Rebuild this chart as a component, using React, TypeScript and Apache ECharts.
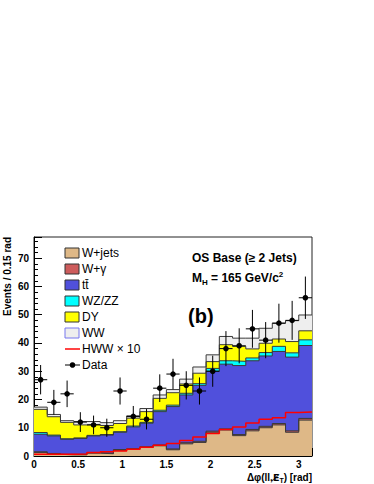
import React, { useEffect, useRef } from "react";
import * as echarts from "echarts";

// ---- data ----
const binWidth = 0.15;
const nBins = 21;
const xMax = 3.15;
const yMax = 77.5;

const wjets = [1.2, 0.6, 0.4, 0.4, 1.0, 0.8, 2.0, 2.3, 3.0, 3.6, 2.2, 4.3, 4.8, 8.4, 9.2, 7.2, 8.9, 10.0, 11.0, 8.4, 12.7];
const wgamma = [0.3, 0.3, 0.2, 0.2, 0.2, 0.2, 0.3, 0.3, 0.3, 0.3, 0.3, 0.4, 0.4, 0.4, 0.4, 0.4, 0.5, 0.5, 0.5, 0.5, 0.6];
const ttbar = [6.2, 6.2, 5.3, 5.6, 5.9, 6.4, 6.1, 7.7, 8.3, 11.8, 15.0, 16.9, 19.8, 21.2, 22.9, 24.4, 24.3, 24.9, 25.5, 26.1, 25.8];
const wzzz = [0.6, 0.3, 0.2, 0.2, 0.2, 0.2, 0.2, 0.3, 0.3, 0.5, 0.5, 0.6, 0.6, 1.0, 1.2, 1.5, 1.0, 1.2, 1.8, 1.5, 2.0];
const dy = [8.2, 6.5, 5.8, 4.6, 3.9, 3.2, 2.9, 2.8, 3.8, 4.2, 4.4, 3.3, 3.7, 2.4, 5.7, 5.3, 3.2, 3.3, 2.6, 4.0, 3.2];
const ww = [0.8, 0.8, 0.6, 1.2, 1.0, 1.0, 1.0, 0.8, 1.1, 1.2, 1.1, 1.7, 2.2, 2.4, 2.9, 2.9, 3.8, 5.3, 5.6, 7.4, 5.6];
const hwwX10 = [0.6, 0.6, 0.6, 0.7, 1.2, 1.5, 1.8, 2.4, 3.1, 3.8, 4.4, 5.5, 6.7, 8.0, 9.4, 10.3, 11.7, 13.0, 13.5, 15.4, 15.6];
const dataCounts = [27, 19, 22, 12, 11, 10, 23, 14, 13, 24, 29, 25, 23, 30, 38, 39, 45, 41, 47, 48, 56];
const dataErr = [5.2, 4.4, 4.7, 3.5, 3.3, 3.2, 4.8, 3.7, 3.6, 4.9, 5.4, 5.0, 4.8, 5.5, 6.2, 6.2, 6.7, 6.4, 6.9, 6.9, 7.5];

const legendNames = ["W+jets", "W+\u03b3", "tt\u0304", "WZ/ZZ", "DY", "WW"];
const legendFill = ["#deb887", "#cd5c5c", "#5050dc", "#00ffff", "#ffff00", "#eeeeee"];
const legendBorder = ["#333333", "#333333", "#333333", "#333333", "#333333", "#7777ee"];

const FONT = "'Liberation Sans', Arial, Helvetica, sans-serif";

export default function App() {
  const ref = useRef<HTMLDivElement>(null);
  useEffect(() => {
    if (!ref.current) return;
    const chart = echarts.init(ref.current, null, { renderer: "svg" });

    const edges = Array.from({ length: nBins + 1 }, (_, i) => +(i * binWidth).toFixed(4));
    const centers = edges.slice(0, nBins).map((e) => e + binWidth / 2);

    const comps = [wjets, wgamma, ttbar, wzzz, dy, ww];
    const cum: number[][] = [];
    comps.forEach((arr, k) => {
      cum.push(arr.map((v, i) => (k === 0 ? 0 : cum[k - 1][i]) + v));
    });
    const stepData = (vals: number[]) =>
      vals.map((v, i) => [edges[i], v]).concat([[edges[nBins], vals[nBins - 1]]]);

    const stackSeries: any[] = [];
    for (let k = comps.length - 1; k >= 0; k--) {
      stackSeries.push({
        name: legendNames[k],
        type: "line",
        step: "end",
        data: stepData(cum[k]),
        symbol: "none",
        showSymbol: false,
        silent: true,
        lineStyle: { color: "#3a3a3a", width: 1 },
        areaStyle: { color: legendFill[k], opacity: 1 },
        z: 2,
      });
    }

    const graphic: any[] = [];
    legendNames.forEach((n, k) => {
      const cy = 253 + 16 * k;
      graphic.push({
        type: "rect",
        shape: { x: 65, y: cy - 5, width: 14, height: 10 },
        style: { fill: legendFill[k], stroke: legendBorder[k], lineWidth: 1 },
      });
      graphic.push({
        type: "text",
        x: 82,
        y: cy,
        style: { text: n, font: `12px ${FONT}`, fill: "#000", verticalAlign: "middle", align: "left" },
      });
    });
    // HWW x10
    graphic.push({
      type: "line",
      shape: { x1: 65, y1: 349, x2: 80, y2: 349 },
      style: { stroke: "#ff4444", lineWidth: 2 },
    });
    graphic.push({
      type: "text",
      x: 82,
      y: 349,
      style: { text: "HWW \u00d7 10", font: `12px ${FONT}`, fill: "#000", verticalAlign: "middle" },
    });
    // Data
    graphic.push({
      type: "line",
      shape: { x1: 65, y1: 365, x2: 80, y2: 365 },
      style: { stroke: "#000", lineWidth: 1 },
    });
    graphic.push({ type: "circle", shape: { cx: 72.5, cy: 365, r: 2.8 }, style: { fill: "#000" } });
    graphic.push({
      type: "text",
      x: 82,
      y: 365,
      style: { text: "Data", font: `12px ${FONT}`, fill: "#000", verticalAlign: "middle" },
    });
    // annotations
    graphic.push({
      type: "text",
      x: 192,
      y: 258,
      style: { text: "OS Base (\u2265 2 Jets)", font: `bold 12px ${FONT}`, fill: "#000", verticalAlign: "middle" },
    });
    graphic.push({
      type: "text",
      x: 192,
      y: 278,
      style: {
        text: "{a|M}{s|H}{a| = 165 GeV/c}{p|2}",
        verticalAlign: "middle",
        rich: {
          a: { fontFamily: FONT, fontWeight: "bold", fontSize: 12, lineHeight: 16, fill: "#000" },
          s: { fontFamily: FONT, fontWeight: "bold", fontSize: 8, lineHeight: 8, verticalAlign: "bottom", fill: "#000" },
          p: { fontFamily: FONT, fontWeight: "bold", fontSize: 8, lineHeight: 8, verticalAlign: "top", fill: "#000" },
        },
      },
    });
    graphic.push({
      type: "text",
      x: 188,
      y: 316,
      style: { text: "(b)", font: `bold 20px ${FONT}`, fill: "#000", verticalAlign: "middle" },
    });
    // y axis title
    graphic.push({
      type: "text",
      x: 7,
      y: 237,
      rotation: Math.PI / 2,
      style: { text: "Events / 0.15 rad", font: `bold 10px ${FONT}`, fill: "#000", align: "right", verticalAlign: "middle" },
    });
    // x axis title
    graphic.push({
      type: "text",
      x: 312,
      y: 477,
      style: {
        text: "{a|\u0394\u03c6(ll,}{e|E\u0338}{s|T}{a|) [rad]}",
        align: "right",
        verticalAlign: "middle",
        rich: {
          a: { fontFamily: FONT, fontWeight: "bold", fontSize: 10, lineHeight: 14, fill: "#000" },
          e: { fontFamily: "'DejaVu Sans'", fontWeight: "bold", fontSize: 9.5, lineHeight: 14, fill: "#000" },
          s: { fontFamily: FONT, fontWeight: "bold", fontSize: 7, lineHeight: 7, verticalAlign: "bottom", fill: "#000" },
        },
      },
    });

    const axisLabelStyle = { color: "#000", fontFamily: FONT, fontWeight: "bold" as const, fontSize: 10 };

    chart.setOption({
      animation: false,
      backgroundColor: "#fff",
      grid: { left: 34, right: 62, top: 237, bottom: 28, show: true, borderColor: "#222", borderWidth: 1, backgroundColor: "transparent" },
      xAxis: [
        {
          type: "value",
          min: 0,
          max: xMax,
          interval: 0.5,
          position: "bottom",
          axisLine: { show: true, lineStyle: { color: "#000", width: 1 } },
          axisTick: { show: true, inside: true, length: 8, lineStyle: { color: "#000" } },
          axisLabel: {
            ...axisLabelStyle,
            margin: 3,
            formatter: (v: number) => (Math.abs(v * 2 - Math.round(v * 2)) < 1e-6 ? String(+v.toFixed(2)) : ""),
          },
          splitLine: { show: false },
        },
        {
          type: "value",
          min: 0,
          max: xMax,
          interval: 0.1,
          position: "bottom",
          offset: 0,
          axisLine: { show: false },
          axisTick: { show: true, inside: true, length: 4, lineStyle: { color: "#000" } },
          axisLabel: { show: false },
          splitLine: { show: false },
        },
      ],
      yAxis: [
        {
          type: "value",
          min: 0,
          max: yMax,
          interval: 10,
          position: "left",
          axisLine: { show: true, lineStyle: { color: "#000", width: 1 } },
          axisTick: { show: true, inside: true, length: 8, lineStyle: { color: "#000" } },
          axisLabel: { ...axisLabelStyle, margin: 5, formatter: (v: number) => (v % 10 === 0 ? String(v) : "") },
          splitLine: { show: false },
        },
        {
          type: "value",
          min: 0,
          max: yMax,
          interval: 2,
          position: "left",
          offset: 0,
          axisLine: { show: false },
          axisTick: { show: true, inside: true, length: 4, lineStyle: { color: "#000" } },
          axisLabel: { show: false },
          splitLine: { show: false },
        },
      ],
      series: [
        ...stackSeries,
        {
          name: "HWW x10",
          type: "line",
          step: "end",
          data: stepData(hwwX10),
          symbol: "none",
          showSymbol: false,
          silent: true,
          lineStyle: { color: "#ff0000", width: 1.5 },
          z: 5,
        },
        {
          name: "Data",
          type: "custom",
          silent: true,
          z: 10,
          data: dataCounts.map((v, i) => [centers[i], v, dataErr[i]]),
          encode: { x: 0, y: 1 },
          renderItem: (params: any, api: any) => {
            const x = api.value(0);
            const y = api.value(1);
            const e = api.value(2);
            const l = api.coord([x - binWidth / 2, y]);
            const r = api.coord([x + binWidth / 2, y]);
            const t = api.coord([x, y + e]);
            const b = api.coord([x, y - e]);
            const c = api.coord([x, y]);
            return {
              type: "group",
              children: [
                { type: "line", shape: { x1: l[0], y1: l[1], x2: r[0], y2: r[1] }, style: { stroke: "#000", lineWidth: 1 } },
                { type: "line", shape: { x1: t[0], y1: t[1], x2: b[0], y2: b[1] }, style: { stroke: "#000", lineWidth: 1 } },
                { type: "circle", shape: { cx: c[0], cy: c[1], r: 2.8 }, style: { fill: "#000" } },
              ],
            };
          },
        },
      ],
      graphic,
    });
    return () => chart.dispose();
  }, []);
  return <div ref={ref} style={{ position: "fixed", left: 0, top: 0, width: 374, height: 484, background: "#fff" }} />;
}
